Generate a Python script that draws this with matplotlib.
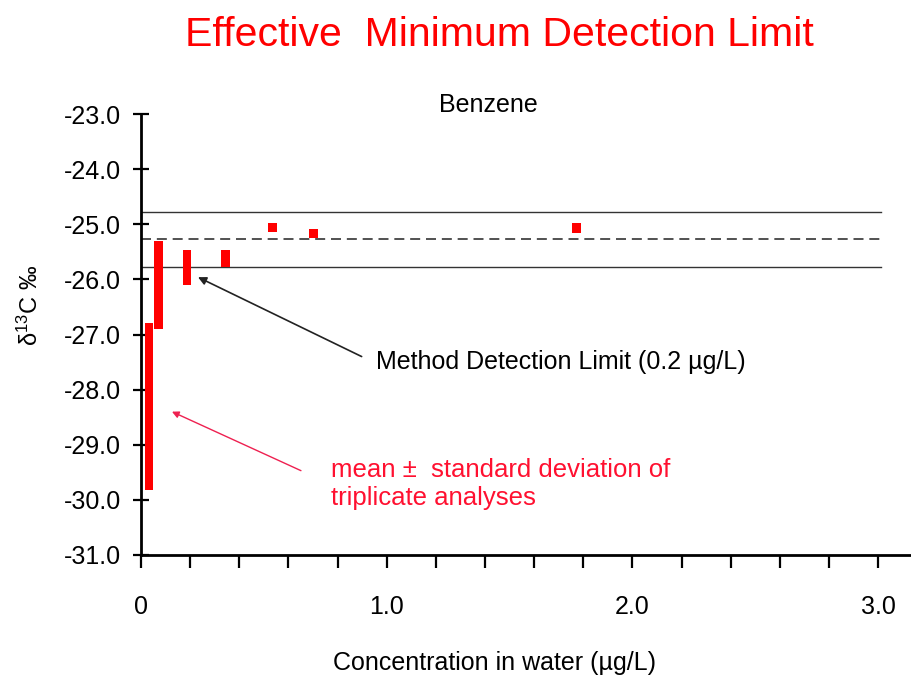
import matplotlib
matplotlib.use("Agg")
import matplotlib.pyplot as plt
import numpy as np

plt.rcParams['font.family'] = ['Liberation Sans', 'DejaVu Sans']
plt.rcParams['mathtext.fontset'] = 'custom'
plt.rcParams['mathtext.rm'] = 'Liberation Sans'
plt.rcParams['mathtext.it'] = 'Liberation Sans:italic'

# Data
concentration = [0.033, 0.071, 0.187, 0.345, 0.534, 0.702, 1.772]
mean_d13c = [-28.31, -26.10, -25.78, -25.62, -25.06, -25.17, -25.06]
sd_d13c = [1.51, 0.80, 0.32, 0.15, 0.08, 0.08, 0.09]
ref_mean = -25.27
ref_band = 0.50
x_tick_values = [0.0, 0.2, 0.4, 0.6, 0.8, 1.0, 1.2, 1.4, 1.6, 1.8, 2.0, 2.2, 2.4, 2.6, 2.8, 3.0]
x_tick_labels = ['0', '', '', '', '', '1.0', '', '', '', '', '2.0', '', '', '', '', '3.0']
y_tick_values = [-31, -30, -29, -28, -27, -26, -25, -24, -23]
y_tick_labels = ['-31.0', '-30.0', '-29.0', '-28.0', '-27.0', '-26.0', '-25.0', '-24.0', '-23.0']

W, H = 912, 675
fig = plt.figure(figsize=(W / 100, H / 100), dpi=100)
left, right, bottom, top = 141, 912, 555, 114
ax = fig.add_axes([left / W, 1 - bottom / H, (right - left) / W, (bottom - top) / H])

m = np.array(mean_d13c)
s = np.array(sd_d13c)
ax.bar(concentration, 2 * s, bottom=m - s, width=0.035, color='#FF0000', zorder=3)

ax.plot([0, 3.01], [ref_mean + ref_band] * 2, color='#333333', lw=1.0, zorder=2)
ax.plot([0, 3.01], [ref_mean - ref_band] * 2, color='#333333', lw=1.0, zorder=2)
ax.plot([0, 3.01], [ref_mean] * 2, color='#333333', lw=1.2, ls=(0, (6, 3.5)), zorder=2)

ax.set_xlim(0, 3.138)
ax.set_ylim(-31, -23)

ax.set_xticks(x_tick_values)
ax.set_xticklabels(x_tick_labels)
ax.set_yticks(y_tick_values)
ax.set_yticklabels(y_tick_labels)

ax.tick_params(axis='x', direction='out', length=9, width=1.6, pad=20, labelsize=18)
ax.tick_params(axis='y', direction='inout', length=11, width=1.6, pad=9, labelsize=18)

for sp in ['top', 'right']:
    ax.spines[sp].set_visible(False)
ax.spines['left'].set_linewidth(2.0)
ax.spines['bottom'].set_linewidth(2.0)

ax.set_xlabel('Concentration in water (\u00b5g/L)', fontsize=18)
ax.xaxis.set_label_coords((495 - left) / (right - left), (bottom - 663) / (bottom - top))
ax.xaxis.label.set_va('center')

ax.set_ylabel('\u03b4$^{13}$C \u2030', fontsize=17)
ax.yaxis.set_label_coords((30 - left) / (right - left), (bottom - 305) / (bottom - top))
ax.yaxis.label.set_va('center')

fig.text(499 / W, 1 - 35 / H, 'Effective  Minimum Detection Limit', color='#FF0000',
         fontsize=29.5, ha='center', va='center')
fig.text(488 / W, 1 - 105 / H, 'Benzene', color='black', fontsize=18, ha='center', va='center')

ax.annotate('', xy=(0.232, -25.96), xytext=(0.898, -27.40),
            arrowprops=dict(arrowstyle='-|>', color='#222222', lw=1.2, mutation_scale=12,
                            shrinkA=0, shrinkB=0))
ax.text(0.955, -27.50, 'Method Detection Limit (0.2 \u00b5g/L)', fontsize=18, color='black',
        ha='left', va='center')

ax.annotate('', xy=(0.126, -28.40), xytext=(0.651, -29.47),
            arrowprops=dict(arrowstyle='-|>', color='#EE2050', lw=1.0, mutation_scale=10,
                            shrinkA=0, shrinkB=0))
ax.text(0.775, -29.71, 'mean \u00b1  standard deviation of\ntriplicate analyses', fontsize=18.5,
        color='#FF1030', ha='left', va='center', linespacing=1.25)

fig.savefig('out.png', dpi=100)
